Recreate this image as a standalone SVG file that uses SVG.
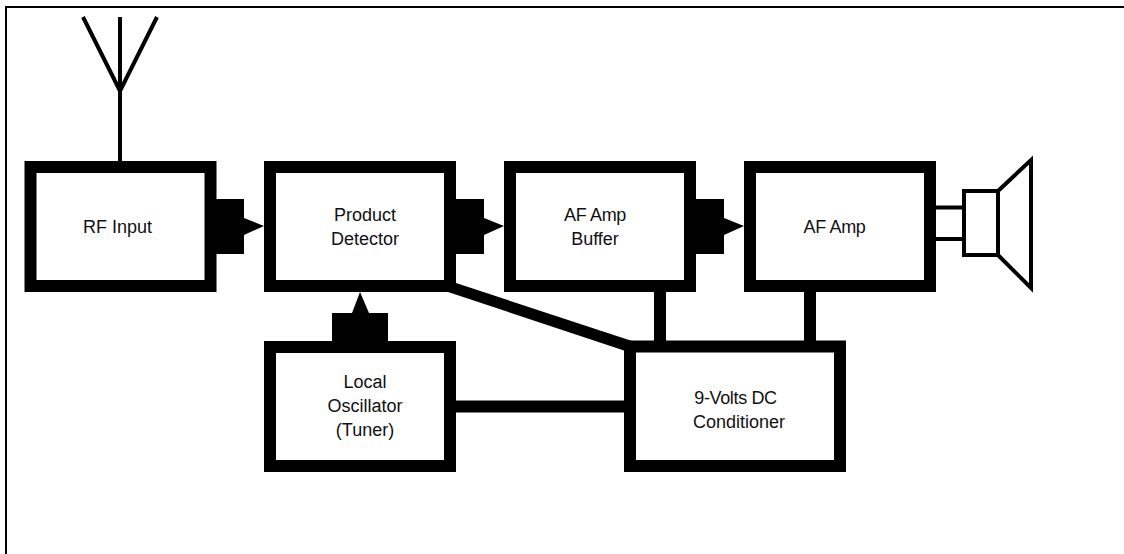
<svg xmlns="http://www.w3.org/2000/svg" width="1124" height="554" viewBox="0 0 1124 554">
<style>
.box{fill:#fff;stroke:#000;stroke-width:12}
.conn{fill:#000;stroke:none}
.thin{fill:none;stroke:#000;stroke-width:4}
.tight{letter-spacing:-.35px}
text{font-family:"Liberation Sans",Arial,sans-serif;font-size:18px;fill:#111;text-anchor:middle}
</style>
<rect width="1124" height="554" fill="#fff"/>
<path id="frame" d="M6 554V7H1124" fill="none" stroke="#000" stroke-width="2"/>
<g id="connectors">
<path class="thin" d="M120 17V161M83 17L120 91L157 17"/>
<path class="conn" d="M216 199H244V218L264 226L244 235V254H216Z"/>
<path class="conn" d="M456 199H484V218L504 226L484 235V254H456Z"/>
<path class="conn" d="M696 199H724V218L744 226L724 235V254H696Z"/>
<path class="conn" d="M332 341V313H352L360 292L369 313H388V341Z"/>
<path class="conn" d="M456 283L632 341L624 350.500L448 292Z"/>
<rect class="conn" x="654" y="292" width="12" height="50"/>
<rect class="conn" x="804" y="292" width="12" height="50"/>
<rect class="conn" x="456" y="400.500" width="170" height="12"/>
<path class="thin" d="M936 207.500H964M936 239H964"/>
</g>
<g id="rf-input"><rect class="box" x="30.500" y="167" width="180" height="119"/><text x="117.500" y="233">RF Input</text></g>
<g id="product-detector"><rect class="box" x="270" y="167" width="180" height="119"/><text x="365" y="221">Product</text><text x="365" y="245">Detector</text></g>
<g id="af-amp-buffer"><rect class="box" x="510" y="167" width="180" height="119"/><text class="tight" x="595" y="221">AF Amp</text><text x="595" y="245">Buffer</text></g>
<g id="af-amp"><rect class="box" x="750" y="167" width="180" height="119"/><text class="tight" x="834.500" y="233">AF Amp</text></g>
<g id="local-oscillator"><rect class="box" x="270" y="347" width="180" height="119"/><text x="365" y="388">Local</text><text x="365" y="412">Oscillator</text><text x="365" y="436">(Tuner)</text></g>
<g id="conditioner"><rect class="box" x="630" y="346.500" width="210" height="119.500"/><text class="tight" x="735.500" y="404">9-Volts DC</text><text x="739" y="428">Conditioner</text></g>
<g id="speaker"><rect class="thin" x="964" y="191" width="34" height="64"/><path class="thin" d="M998 191L1031 160V288L998 255"/></g>
</svg>
